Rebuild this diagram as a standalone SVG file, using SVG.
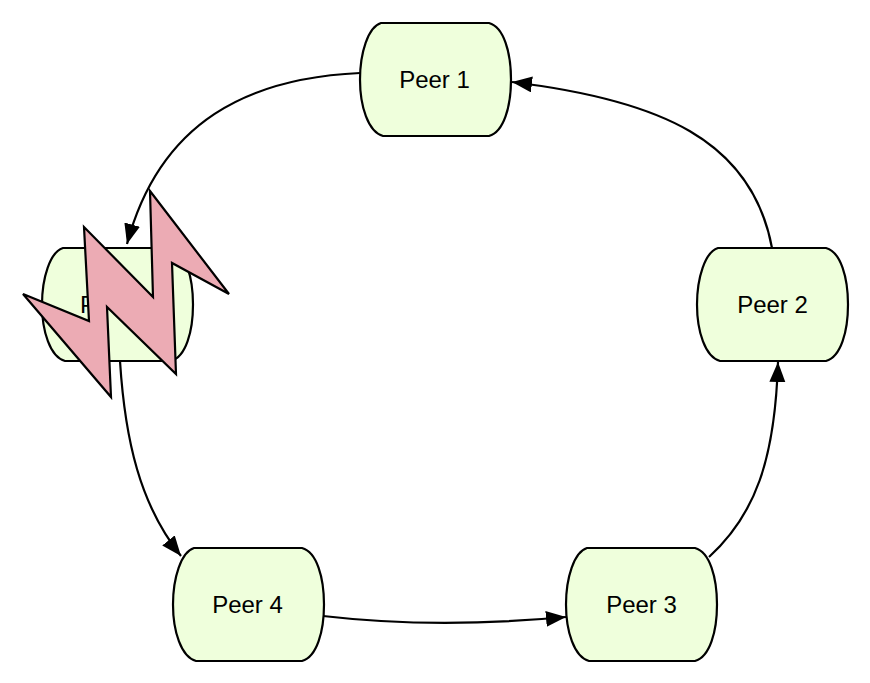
<svg xmlns="http://www.w3.org/2000/svg" width="870" height="683" viewBox="0 0 870 683">
<style>
.peer{fill:#efffdc;stroke:#000;stroke-width:2.2}
.lbl{font-family:"Liberation Sans",Arial,sans-serif;font-size:24px;fill:#000;text-anchor:middle}
.edge{fill:none;stroke:#000;stroke-width:2.2;marker-end:url(#ah)}
.bolt{fill:#ecabb4;stroke:#000;stroke-width:2.2;stroke-linejoin:miter}
</style>
<defs>
<marker id="ah" markerUnits="userSpaceOnUse" markerWidth="22" markerHeight="18" refX="20" refY="8" orient="auto">
<path d="M0 0L20 8L0 16Z" fill="#000"/>
</marker>
<path id="can" d="M23 0H129C144 4 151 30 151 56.500C151 83 144 109 129 113H23C8 109 0 83 0 56.500C0 30 8 4 21 0Z"/>
</defs>
<g id="connectors">
<path class="edge" d="M360 73C250 78 160 120 127 244"/>
<path class="edge" d="M772 248C752 140 660 100 512 82"/>
<path class="edge" d="M709 557C755 515 775 460 778 362"/>
<path class="edge" d="M323 616C400 625 480 625 566 617"/>
<path class="edge" d="M120 361C125 440 140 505 181 556"/>
</g>
<g id="peer1"><use href="#can" class="peer" x="360" y="23"/><text class="lbl" x="434.500" y="88">Peer 1</text></g>
<g id="peer2"><use href="#can" class="peer" x="697" y="248"/><text class="lbl" x="772.500" y="313">Peer 2</text></g>
<g id="peer3"><use href="#can" class="peer" x="566" y="548"/><text class="lbl" x="641.500" y="613">Peer 3</text></g>
<g id="peer4"><use href="#can" class="peer" x="173" y="548"/><text class="lbl" x="247.500" y="613">Peer 4</text></g>
<g id="peer5"><use href="#can" class="peer" x="42" y="248"/><text class="lbl" x="88" y="313">P</text></g>
<g id="bolt"><polygon class="bolt" points="150,191 229,294 172,263 176,374 107,307 111,397 23,294 89,321 84,227 153,297"/></g>
</svg>
